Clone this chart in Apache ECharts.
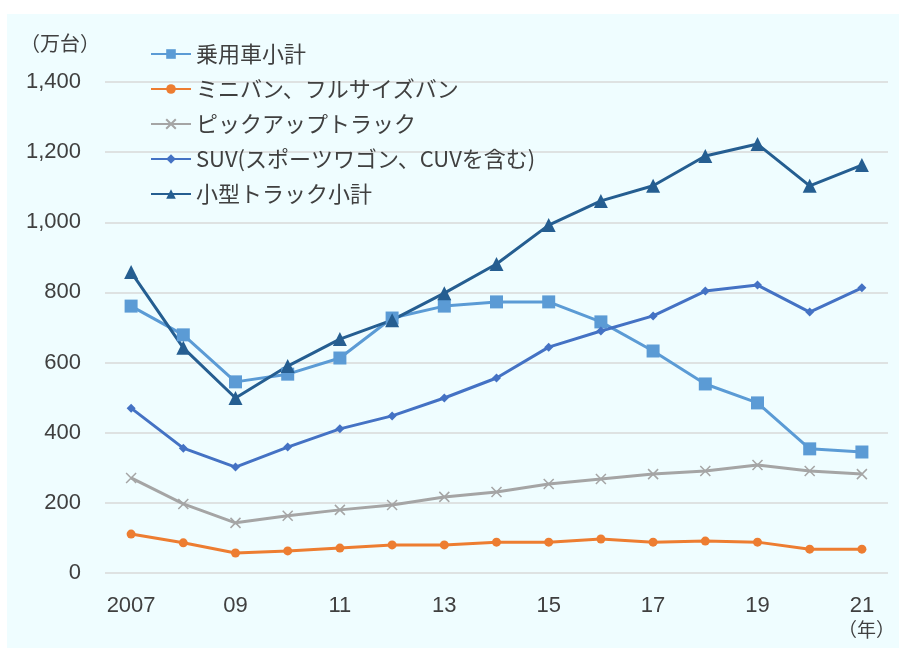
<!DOCTYPE html>
<html>
<head>
<meta charset="utf-8">
<script src="https://cdn.jsdelivr.net/npm/echarts@6/dist/echarts.min.js"></script>
<style>
  html, body { margin: 0; padding: 0; background: #fff; }
  #chart { width: 899px; height: 648px; }
</style>
</head>
<body>
<div id="chart"></div>
<script>
// 年（横軸ラベル）
const years = ['2007', '08', '09', '10', '11', '12', '13', '14', '15', '16', '17', '18', '19', '20', '21']

// 各系列（万台）
const passengerCars = [761, 679, 545, 567, 613, 727, 761, 773, 773, 716, 633, 539, 485, 354, 345]
const minivans = [111, 86, 57, 63, 71, 80, 80, 88, 88, 97, 88, 91, 88, 68, 68]
const pickups = [271, 197, 143, 163, 180, 194, 217, 231, 254, 268, 282, 291, 308, 291, 282]
const suvs = [470, 356, 302, 359, 411, 448, 499, 556, 644, 690, 733, 804, 821, 744, 813]
const lightTrucks = [858, 642, 499, 590, 667, 721, 798, 881, 992, 1061, 1104, 1189, 1223, 1104, 1163]

const seriesNames = [
  '乗用車小計',
  'ミニバン、フルサイズバン',
  'ピックアップトラック',
  'SUV(スポーツワゴン、CUVを含む)',
  '小型トラック小計'
]

const font = '"Noto Sans CJK JP", "Noto Sans", sans-serif'
const numFont = '"Liberation Sans", Arial, sans-serif'
const textColor = '#404040'

const chart = echarts.init(document.getElementById('chart'))

function line(name, data, color, symbol, size) {
  return {
    name: name,
    type: 'line',
    data: data,
    symbol: symbol,
    symbolSize: size,
    lineStyle: { color: color, width: 3 },
    itemStyle: { color: color },
    z: 3
  }
}

const pickupSeries = line(seriesNames[2], pickups, '#a5a5a5', 'path://M0,0 L10,10 M10,0 L0,10', 10)
pickupSeries.itemStyle = { color: '#a5a5a5', borderColor: '#a5a5a5', borderWidth: 1.5 }

chart.setOption({
  animation: false,
  textStyle: { fontFamily: font },
  graphic: [
    {
      type: 'rect',
      left: 7, top: 14,
      shape: { width: 892, height: 634 },
      style: { fill: '#effdff' },
      z: -10
    },
    {
      type: 'text',
      left: 20, top: 33,
      style: { text: '（万台）', fontSize: 20, fill: textColor, fontFamily: font }
    },
    {
      type: 'text',
      left: 838, top: 620,
      style: { text: '（年）', fontSize: 19, fill: textColor, fontFamily: font }
    }
  ],
  legend: {
    orient: 'vertical',
    left: 145,
    top: 38,
    itemWidth: 40,
    itemHeight: 12,
    itemGap: 13,
    textStyle: { fontSize: 22, color: textColor, fontFamily: font },
    data: seriesNames
  },
  grid: {
    left: 105,
    right: 11,
    top: 82,
    bottom: 75
  },
  xAxis: {
    type: 'category',
    data: years,
    boundaryGap: true,
    axisLine: { show: false },
    axisTick: { show: false },
    axisLabel: {
      interval: 1,
      fontSize: 22,
      color: textColor,
      margin: 22,
      fontFamily: numFont
    }
  },
  yAxis: {
    type: 'value',
    min: 0,
    max: 1400,
    interval: 200,
    axisLine: { show: false },
    axisTick: { show: false },
    splitLine: { lineStyle: { color: '#d9d9d9', width: 1.5 } },
    axisLabel: {
      fontSize: 22,
      color: textColor,
      margin: 24,
      fontFamily: numFont,
      formatter: v => v.toLocaleString('en-US')
    }
  },
  series: [
    line(seriesNames[0], passengerCars, '#5b9bd5', 'rect', 13),
    line(seriesNames[1], minivans, '#ed7d31', 'circle', 9),
    pickupSeries,
    line(seriesNames[3], suvs, '#4472c4', 'diamond', 9),
    line(seriesNames[4], lightTrucks, '#255e91', 'triangle', 14)
  ]
})
</script>
</body>
</html>
